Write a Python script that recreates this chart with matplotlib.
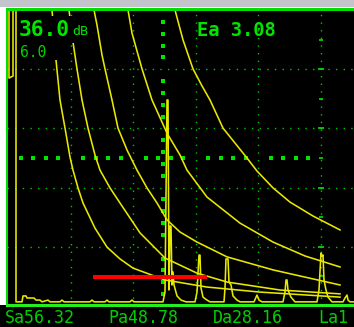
import numpy as np
import matplotlib.pyplot as plt
from matplotlib.patches import Rectangle

# flaw detector screen: x in mm (10 mm per division), y in % screen height
W, H = 354, 327

# DAC curves
dac1_x = [7.04, 7.36, 7.68, 8.32, 9.12, 9.92, 10.4, 11.2, 12.0, 13.92, 15.84, 17.92, 20.0, 25.12, 31.84, 40.32, 53.12]
dac1_y = [100, 91.5, 83.1, 69.6, 60.1, 50.3, 45.9, 39.9, 34.8, 26.3, 19.9, 15.9, 12.8, 8.8, 6.4, 4.7, 3.0]
dac2_x = [9.76, 10.4, 11.04, 11.84, 12.8, 13.92, 14.72, 16.32, 17.92, 21.12, 25.12, 30.24, 35.04, 43.52, 53.12]
dac2_y = [100, 89.2, 80.1, 69.6, 60.1, 51.0, 45.9, 39.9, 34.8, 24.7, 16.2, 11.1, 8.1, 5.4, 4.1]
dac3_x = [13.76, 14.24, 15.04, 15.52, 16.64, 17.6, 19.04, 20.64, 22.24, 23.84, 25.44, 27.52, 30.24, 35.04, 42.4, 53.12]
dac3_y = [100, 94.9, 84.8, 80.1, 69.6, 60.1, 52.7, 45.9, 39.9, 34.8, 29.1, 25.0, 21.6, 16.6, 12.2, 7.1]
dac4_x = [19.2, 19.84, 21.44, 23.04, 25.44, 27.52, 28.64, 31.84, 37.12, 42.4, 47.52, 53.12]
dac4_y = [100, 92.2, 80.1, 69.6, 58.4, 51.0, 45.9, 36.8, 28.0, 21.6, 16.9, 13.2]
dac5_x = [26.72, 28.0, 29.6, 31.0, 32.32, 34.4, 38.24, 39.84, 42.4, 45.12, 48.8, 53.12]
dac5_y = [100, 89.9, 80.1, 74.5, 69.6, 60.1, 50.0, 45.6, 39.9, 35.1, 30.4, 25.7]

# A-scan trace
scan_x = [0.16, 0.16, 0.8, 0.8, 1.28, 1.28, 2.24, 2.4, 2.88, 3.04, 4.16, 4.48, 5.12, 5.44,
          6.4, 6.72, 8.32, 8.64, 8.96, 13.12, 13.44, 13.76, 15.52, 15.84, 16.16, 19.52, 19.84, 20.16,
          24.8, 25.12, 25.44, 25.6, 25.76, 25.92, 26.08, 26.24, 26.4, 26.56, 27.04, 27.68, 28.48,
          29.92, 30.24, 30.56, 30.72, 30.88, 31.2, 31.84, 32.32,
          34.56, 34.72, 34.88, 35.2, 35.36, 35.68, 36.0, 36.64, 37.12,
          39.36, 39.84, 40.16, 40.64,
          44.0, 44.32, 44.48, 44.64, 44.8, 45.28, 45.92,
          49.44, 49.76, 50.08, 50.24, 50.4, 50.56, 50.88, 51.2, 51.84,
          53.6, 53.92, 54.24, 54.4, 54.72, 55.36]
scan_y = [100, 77.0, 77.7, 100, 100, 1.4, 1.4, 3.4, 3.4, 2.7, 2.7, 2.0, 2.0, 1.4,
          2.0, 1.4, 1.4, 2.0, 1.4, 1.4, 2.0, 1.4, 1.4, 2.0, 1.4, 1.4, 2.0, 1.4,
          1.4, 4.7, 69.6, 69.6, 5.4, 27.0, 27.0, 7.1, 11.5, 7.1, 3.4, 2.0, 1.4,
          1.4, 4.7, 17.2, 17.2, 6.1, 3.0, 2.0, 1.4,
          1.4, 6.1, 15.9, 15.9, 8.1, 7.1, 3.4, 2.0, 1.4,
          1.4, 3.7, 2.0, 1.4,
          1.4, 4.7, 8.8, 8.8, 5.4, 3.0, 1.4,
          1.4, 5.4, 17.9, 16.9, 17.2, 8.8, 5.4, 3.0, 1.4,
          1.4, 2.7, 3.7, 2.0, 1.4, 1.4]

gate_start, gate_end, gate_level = 13.6, 31.84, 9.8
cursor_x, cursor_y = 24.8, 50

gain = "36.0"
gain_step = "6.0"
ea_text = "Ea 3.08"
bottom_labels = ["Sa56.32", "Pa48.78", "Da28.16", "La1"]
bottom_label_px = [5, 108, 213, 318]

YEL = '#e8e800'
GRID = '#00c800'
BRIGHT = '#00e400'
MONO = 'DejaVu Sans Mono'


def fx(px):
    return px / W


def fy(py):
    return 1 - py / H


def pxrect(x0, y0, x1, y1, color, z=1):
    return Rectangle((fx(x0), fy(y1)), (x1 - x0) / W, (y1 - y0) / H,
                     transform=fig.transFigure, facecolor=color, edgecolor='none', zorder=z)


fig = plt.figure(figsize=(3.54, 3.27), dpi=100, facecolor='black')

# bezel
fig.patches.append(pxrect(0, 0, W, 7, '#c3c3cb'))
fig.patches.append(pxrect(0, 7, W, 9, 'white'))
fig.patches.append(pxrect(0, 7, 6, 305, 'white'))

ax = fig.add_axes([fx(7), fy(306), (W - 7) / W, (306 - 10) / H])
ax.set_facecolor('black')
ax.set_xlim(-0.16, 55.36)
ax.set_ylim(0, 100)
ax.axis('off')

# dotted grid
for g in [10, 20, 30, 40, 50]:
    ax.axvline(g, color=GRID, lw=1.0, ls=(0, (1, 4.5)), zorder=1)
for g in [20, 40, 60, 80]:
    ax.axhline(g, color=GRID, lw=1.0, ls=(0, (1, 4.5)), zorder=1)
ax.plot([50] * 4, [20, 40, 60, 80], ls='none', marker='_', ms=4.3, mew=1.2, color=BRIGHT, zorder=1)
ax.plot([50] * 5, [10, 30, 50, 70, 90], ls='none', marker='_', ms=2.2, mew=1.2, color=BRIGHT, zorder=1)

# cursor crosshair of big dots
hx = [v for v in range(2, 50, 2) if v % 10]
vy = [v for v in range(4, 100, 4) if v % 20]
ax.plot(hx, [cursor_y] * len(hx), ls='none', marker='s', ms=2.3, mew=0, color=BRIGHT, zorder=2)
ax.plot([cursor_x] * len(vy), vy, ls='none', marker='s', ms=2.3, mew=0, color=BRIGHT, zorder=2)

for cx, cy in [(dac1_x, dac1_y), (dac2_x, dac2_y), (dac3_x, dac3_y), (dac4_x, dac4_y), (dac5_x, dac5_y)]:
    ax.plot(cx, cy, color=YEL, lw=1.15, zorder=3)

ax.plot(scan_x, scan_y, color=YEL, lw=1.15, zorder=3)
ax.plot([gate_start, gate_end], [gate_level, gate_level], color='#ff0000', lw=2.9,
        solid_capstyle='butt', zorder=4)

# black boxes behind the readouts
ax.add_patch(pxrect(17, 16, 93, 43, 'black', 5))
ax.add_patch(pxrect(17, 43, 58, 60, 'black', 5))

# frame lines
fig.patches.append(pxrect(6, 8.5, W, 10.5, '#00dd00', 4))
fig.patches.append(pxrect(6, 9, 7.5, 306, '#00dd00', 4))
fig.patches.append(pxrect(6, 303.5, W, 306.5, '#22ee22', 4))

fig.text(fx(19), fy(36), gain, color=BRIGHT, fontsize=15.3, family=MONO, weight='bold', zorder=6)
fig.text(fx(72), fy(35), "dB", color=BRIGHT, fontsize=9.5, family=MONO, zorder=6)
fig.text(fx(20), fy(57), gain_step, color='#00d000', fontsize=10.5, family=MONO, zorder=6)
fig.text(fx(197), fy(36), ea_text, color=BRIGHT, fontsize=13.5, family=MONO, weight='bold', zorder=6)
for lab, px in zip(bottom_labels, bottom_label_px):
    fig.text(fx(px), fy(323), lab, color='#00d000', fontsize=12, family=MONO, zorder=6)

fig.savefig('out.png', dpi=100, facecolor='black')
